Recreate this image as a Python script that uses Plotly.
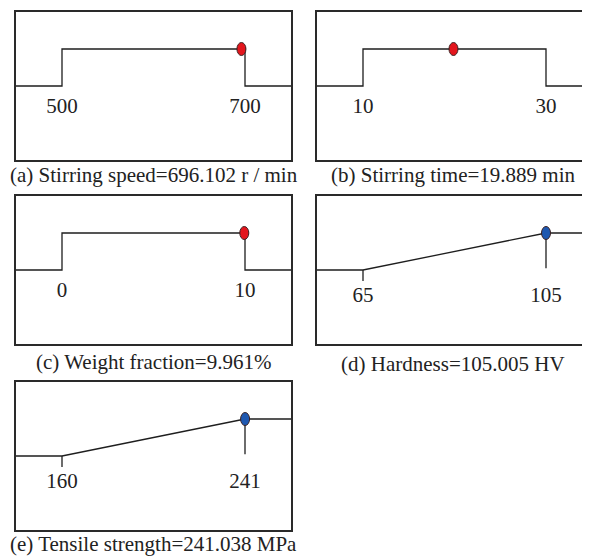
import plotly.graph_objects as go

# ---- data ----
panel_ids = ["a", "b", "c", "d", "e"]
factor_names = ["Stirring speed", "Stirring time", "Weight fraction", "Hardness", "Tensile strength"]
lower_limits = [500, 10, 0, 65, 160]
upper_limits = [700, 30, 10, 105, 241]
optimum_values = [696.102, 19.889, 9.961, 105.005, 241.038]
value_text = ["696.102", "19.889", "9.961", "105.005", "241.038"]
units = [" r / min", " min", "%", " HV", " MPa"]
goal_types = ["range", "range", "range", "maximize", "maximize"]

# ---- layout helpers ----
OFF = 8                     # page body margin
W, H = 590 - OFF, 560 - OFF
boxes = [(16, 12, 291, 160), (317, 12, 589, 160), (16, 196, 291, 344),
         (317, 196, 589, 344), (16, 382, 291, 530)]
title_y_px = [175, 175, 362, 364, 544]
LOW_PX_OFF = 46      # px from left border to lower limit
SPAN_PX = 183        # px between lower and upper limits

FONT = "Liberation Serif, Times New Roman, serif"
LINE_C = "#1e1e1e"
RED = "#e3161d"
BLUE = "#1f58b0"

def fx(px):
    return (px - OFF) / W

def fy(py):
    return 1 - (py - OFF) / H

fig = go.Figure()
shapes = []
annotations = []

for i in range(5):
    n = i + 1
    xa = "x" if n == 1 else f"x{n}"
    ya = "y" if n == 1 else f"y{n}"
    l, t, r, b = boxes[i]
    lo, hi = lower_limits[i], upper_limits[i]
    upp = (hi - lo) / SPAN_PX  # units per pixel
    x_min = lo - LOW_PX_OFF * upp
    x_max = lo + (r - l - LOW_PX_OFF) * upp

    fig.layout[f"xaxis{'' if n == 1 else n}"] = dict(
        domain=[fx(l), min(1, fx(r))], range=[x_min, x_max], anchor=ya,
        showticklabels=False, showgrid=False, zeroline=False, ticks="",
        showline=True, mirror=True, linecolor="#2a2a2a", linewidth=1.5)
    fig.layout[f"yaxis{'' if n == 1 else n}"] = dict(
        domain=[fy(b), fy(t)], range=[-2, 2], anchor=xa,
        showticklabels=False, showgrid=False, zeroline=False, ticks="",
        showline=True, mirror=True, linecolor="#2a2a2a", linewidth=1.5)

    if goal_types[i] == "range":
        xs = [x_min, lo, lo, hi, hi, x_max]
        ys = [0, 0, 1, 1, 0, 0]
        d = 1.0
        label_y = -0.6
        dot_color = RED
    else:
        xs = [x_min, lo, hi, x_max]
        ys = [0, 0, 1, 1]
        d = min(1.0, max(0.0, (optimum_values[i] - lo) / (hi - lo)))
        label_y = -0.72
        dot_color = BLUE
        fig.add_trace(go.Scatter(x=[lo, lo], y=[0, -0.3], mode="lines",
                                 line=dict(color=LINE_C, width=1.3),
                                 xaxis=xa, yaxis=ya, showlegend=False, hoverinfo="skip"))
        fig.add_trace(go.Scatter(x=[hi, hi], y=[1, 0.05], mode="lines",
                                 line=dict(color=LINE_C, width=1.3),
                                 xaxis=xa, yaxis=ya, showlegend=False, hoverinfo="skip"))

    fig.add_trace(go.Scatter(x=xs, y=ys, mode="lines",
                             line=dict(color=LINE_C, width=1.3),
                             xaxis=xa, yaxis=ya, showlegend=False, hoverinfo="skip"))
    fig.add_trace(go.Scatter(x=[lo, hi], y=[label_y, label_y], mode="text",
                             text=[str(lo), str(hi)], textposition="middle center",
                             textfont=dict(family=FONT, size=21, color="#222"),
                             xaxis=xa, yaxis=ya, showlegend=False, hoverinfo="skip"))

    shapes.append(dict(type="circle", xref=xa, yref=ya,
                       xsizemode="pixel", ysizemode="pixel",
                       xanchor=optimum_values[i], yanchor=d,
                       x0=-4.5, x1=4.5, y0=-6.5, y1=6.5,
                       fillcolor=dot_color, line=dict(color="#3a2020", width=1),
                       layer="above"))

    annotations.append(dict(
        xref="paper", yref="paper", x=fx((l + r) / 2), y=fy(title_y_px[i]),
        xanchor="center", yanchor="middle", showarrow=False,
        text=f"({panel_ids[i]}) {factor_names[i]}={value_text[i]}{units[i]}",
        font=dict(family=FONT, size=21, color="#222")))

fig.update_layout(width=W, height=H, margin=dict(l=0, r=0, t=0, b=0),
                  paper_bgcolor="white", plot_bgcolor="white",
                  shapes=shapes, annotations=annotations, showlegend=False)

fig.write_html("out.html")
